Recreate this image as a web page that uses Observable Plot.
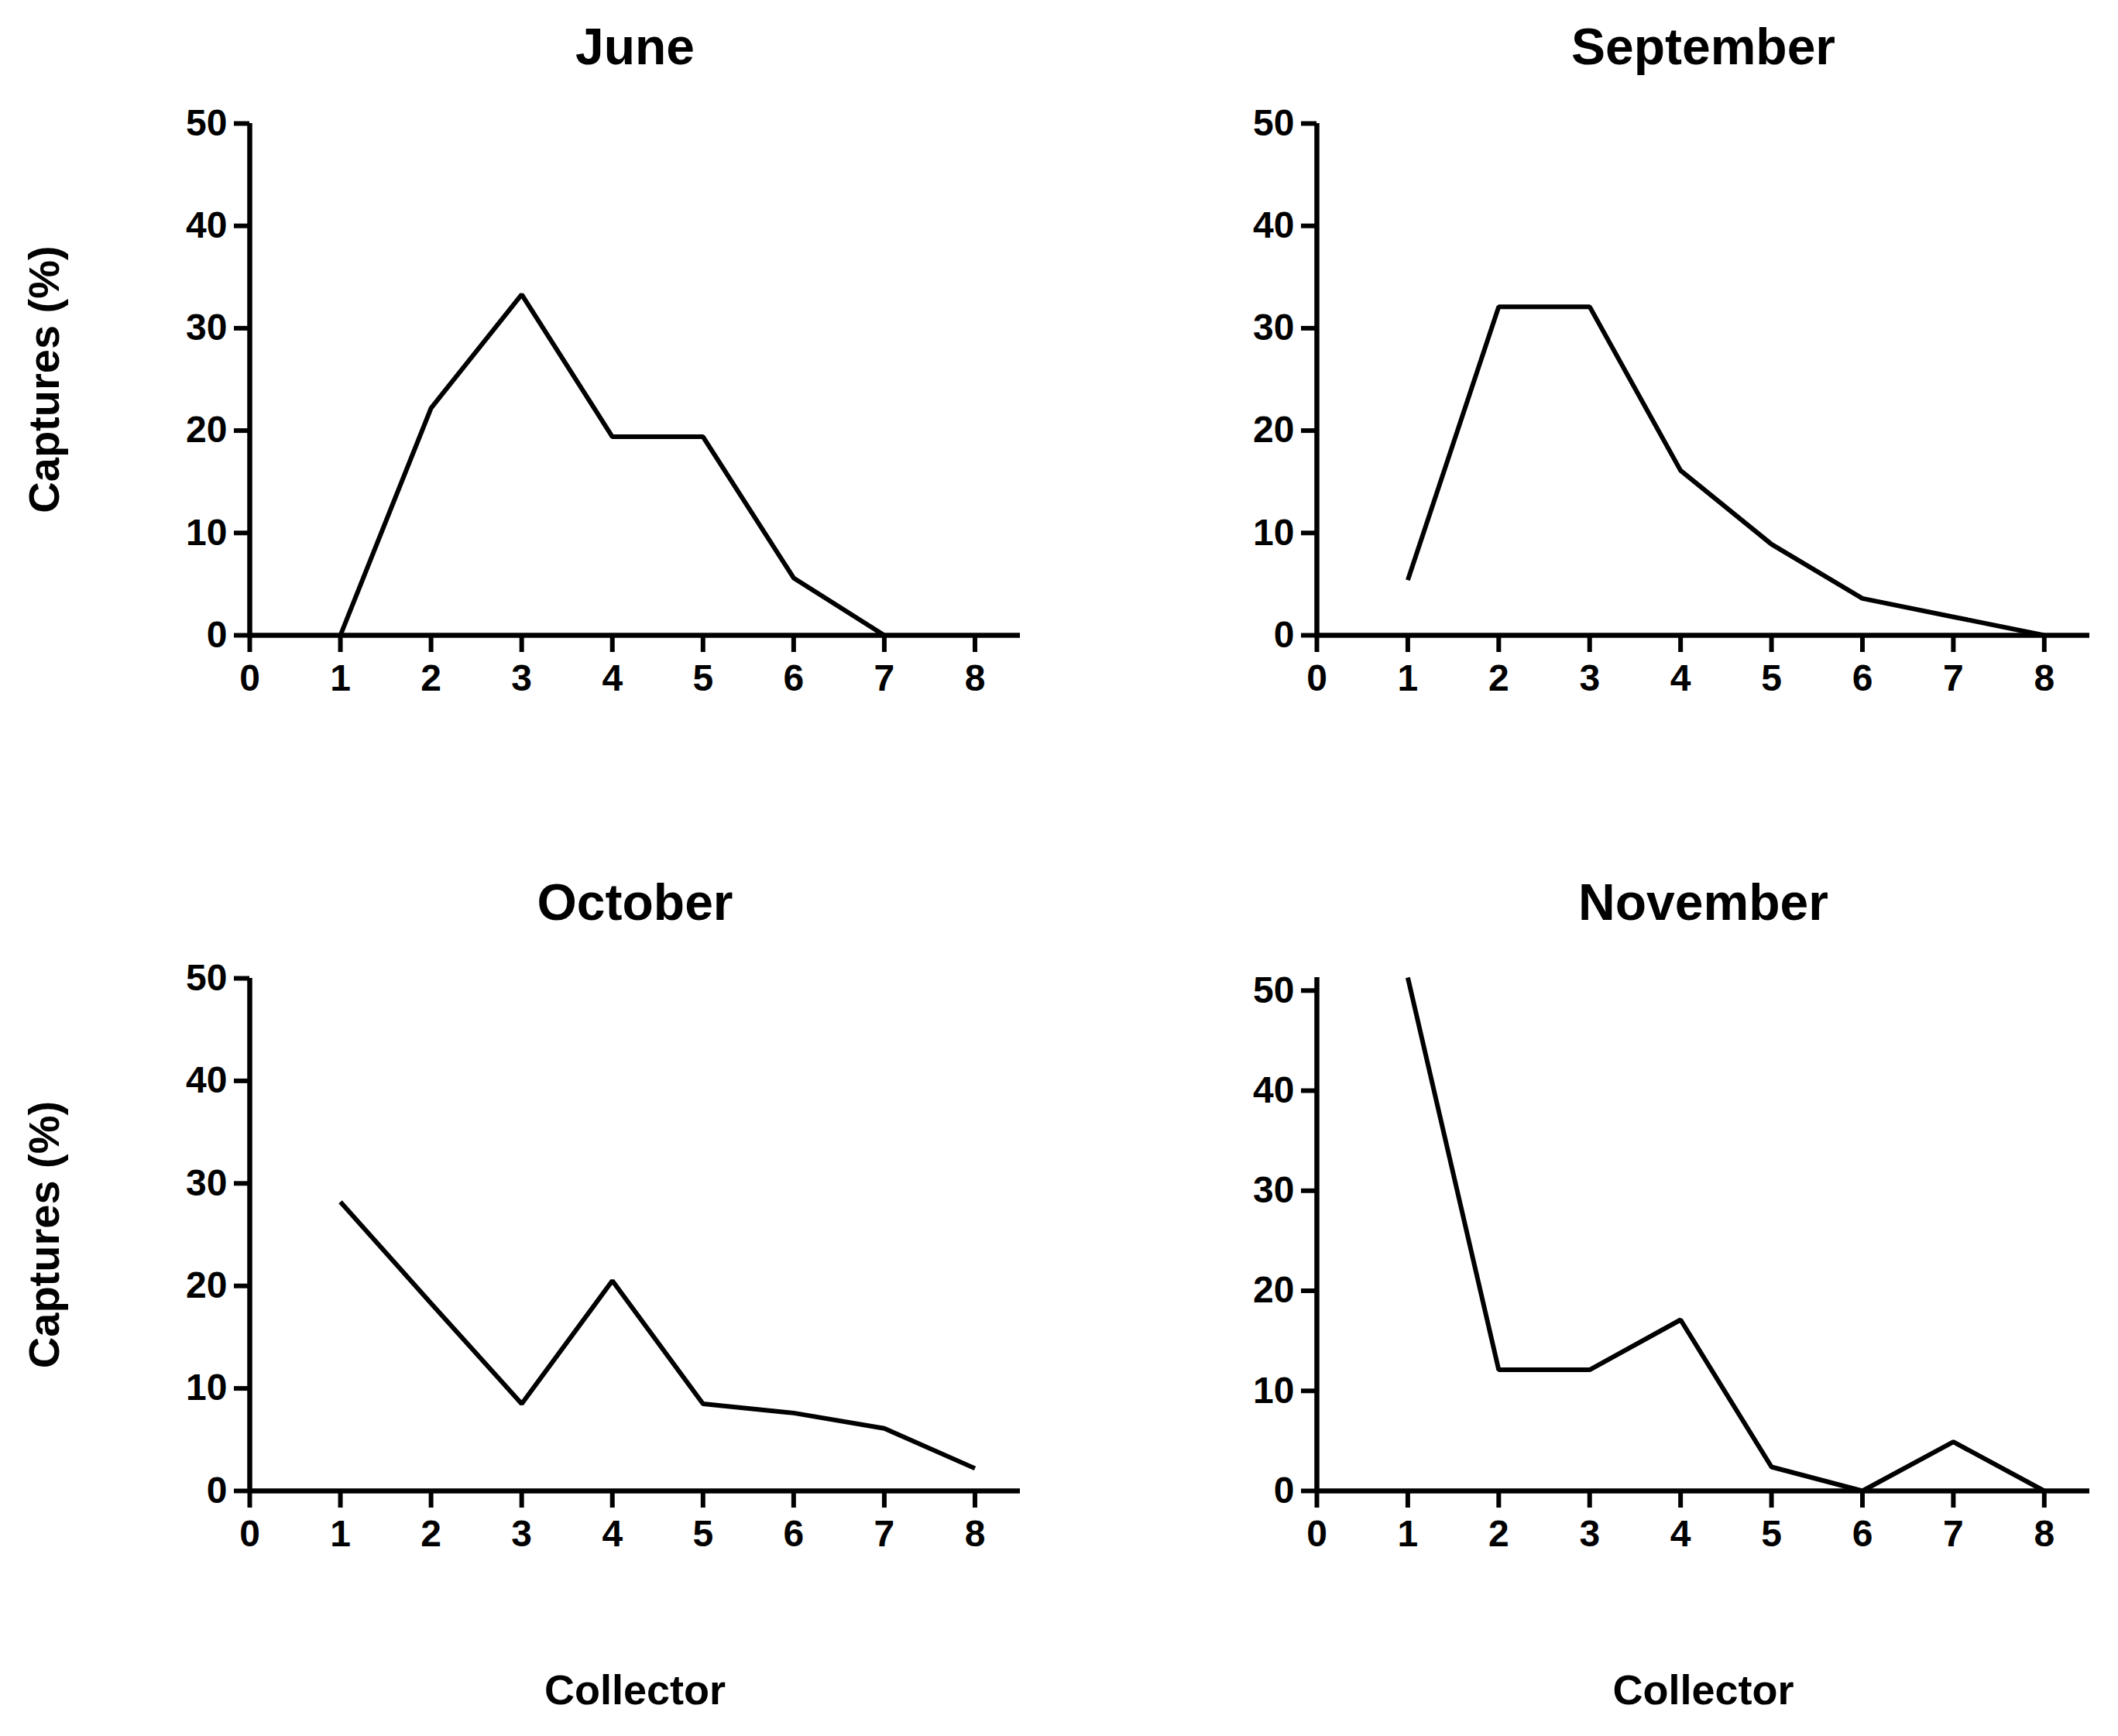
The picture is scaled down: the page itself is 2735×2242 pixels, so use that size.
<!DOCTYPE html>
<html>
<head>
<meta charset="utf-8">
<script src="https://cdn.jsdelivr.net/npm/d3@7"></script>
<script src="https://cdn.jsdelivr.net/npm/@observablehq/plot@0.6"></script>
<style>
  html, body { margin: 0; padding: 0; background: white; }
  #chart { position: relative; width: 2735px; height: 2242px; background: white; }
  #chart > div { position: absolute; }
</style>
</head>
<body>
<div id="chart"></div>
<script>
// ---- Data ----
const collectors = [1, 2, 3, 4, 5, 6, 7, 8];
const june      = [0, 22.2, 33.3, 19.4, 19.4, 5.6, 0, null];
const september = [5.4, 32.1, 32.1, 16.1, 8.9, 3.6, 1.8, 0];
const october   = [28.2, 18.3, 8.5, 20.5, 8.5, 7.6, 6.1, 2.2];
const november  = [51.3, 12.1, 12.1, 17.1, 2.4, 0, 4.9, 0];
const xTicks = [0, 1, 2, 3, 4, 5, 6, 7, 8];
const yTicks = [0, 10, 20, 30, 40, 50];
const titles = ["June", "September", "October", "November"];
const yLabel = "Captures (%)";
const xLabel = "Collector";

const series = [june, september, october, november];
const FONT = "'Liberation Sans', Arial, Helvetica, sans-serif";

const panels = [
  {row: 0, col: 0, yMax: 50,   marginTop: 159},
  {row: 0, col: 1, yMax: 50,   marginTop: 159},
  {row: 1, col: 0, yMax: 50,   marginTop: 157},
  {row: 1, col: 1, yMax: 51.3, marginTop: 156}
];

const chart = document.getElementById("chart");

panels.forEach((p, i) => {
  const W = p.col === 0 ? 1378 : 1357;
  const H = p.row === 0 ? 1106 : 1136;
  const left = p.col === 0 ? 0 : 1378;
  const top = p.row === 0 ? 0 : 1106;
  const frameRight = p.col === 0 ? 1317 : 1320;
  const frameBottom = p.row === 0 ? 820 : 819;
  const titleBaseline = p.row === 0 ? 82 : 81;

  const data = collectors.map((c, k) => ({x: c, y: series[i][k]}));

  const marks = [
    Plot.ruleX([0], {stroke: "black", strokeWidth: 6.5}),
    Plot.ruleY([0], {stroke: "black", strokeWidth: 6.5}),
    Plot.axisX({
      ticks: xTicks, tickFormat: d3.format("d"), tickSize: 22, tickPadding: 15,
      strokeWidth: 6, fontSize: 48, fontWeight: "bold", fontFamily: FONT,
      fill: "black", label: null
    }),
    Plot.axisY({
      ticks: yTicks, tickFormat: d3.format("d"), tickSize: 20, tickPadding: 9,
      strokeWidth: 6, fontSize: 48, fontWeight: "bold", fontFamily: FONT,
      fill: "black", label: null
    }),
    Plot.line(data, {
      x: "x", y: "y", stroke: "black", strokeWidth: 6,
      strokeLinejoin: "miter", strokeLinecap: "butt"
    }),
    Plot.text([titles[i]], {
      frameAnchor: "top", lineAnchor: "bottom", dy: titleBaseline - p.marginTop,
      fontSize: 66, fontWeight: "bold", fontFamily: FONT, fill: "black"
    })
  ];

  if (p.col === 0) {
    marks.push(Plot.text([yLabel], {
      frameAnchor: "left", rotate: -90, textAnchor: "middle", lineAnchor: "bottom",
      dx: 75 - 322, fontSize: 56, fontWeight: "bold", fontFamily: FONT, fill: "black"
    }));
  }
  if (p.row === 1) {
    marks.push(Plot.text([xLabel], {
      frameAnchor: "bottom", lineAnchor: "bottom", dy: (2200 - top) - frameBottom,
      fontSize: 54, fontWeight: "bold", fontFamily: FONT, fill: "black"
    }));
  }

  const svg = Plot.plot({
    width: W,
    height: H,
    marginLeft: 322,
    marginRight: W - frameRight,
    marginTop: p.marginTop,
    marginBottom: H - frameBottom,
    x: {domain: [0, 8.5], axis: null},
    y: {domain: [0, p.yMax], axis: null},
    style: {background: "white", color: "black", overflow: "visible"},
    marks
  });

  const holder = document.createElement("div");
  holder.style.left = left + "px";
  holder.style.top = top + "px";
  holder.style.width = W + "px";
  holder.style.height = H + "px";
  holder.appendChild(svg);
  chart.appendChild(holder);
});
</script>
</body>
</html>
